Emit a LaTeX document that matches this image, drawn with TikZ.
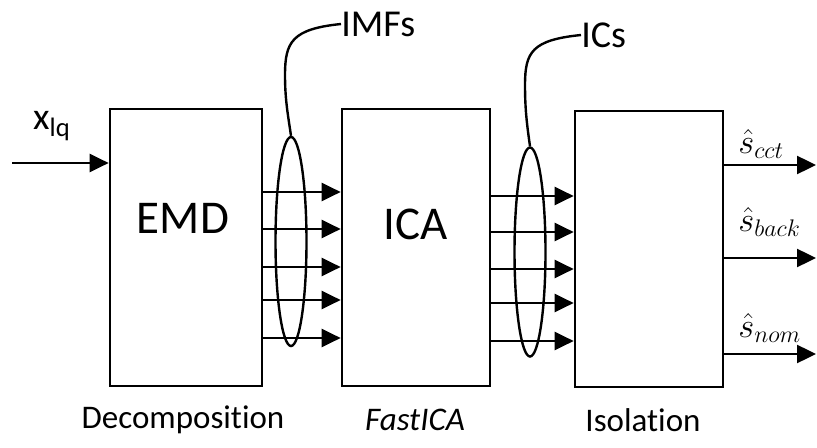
\documentclass[tikz,border=0pt]{standalone}
\usepackage{fontspec}
\setmainfont{Carlito}[Ligatures=NoCommon]
\usetikzlibrary{arrows.meta,shapes.geometric}
\begin{document}
\begin{tikzpicture}[x=0.5pt,y=-0.5pt,
  blk/.style={draw,line width=1.35pt,minimum width=76pt,minimum height=138.5pt,inner sep=0pt},
  arr/.style={line width=1.2pt,-{Triangle[length=9.5pt,width=9pt]}},
  bundle/.style={draw,ellipse,line width=1.2pt,minimum width=15.5pt,minimum height=104.5pt,inner sep=0pt},
  lead/.style={line width=1.2pt},
  lbl/.style={font=\fontsize{16.5}{18}\selectfont},
  big/.style={font=\fontsize{23.5}{26}\selectfont},
  tag/.style={font=\fontsize{19}{21}\selectfont,inner sep=0pt},
  outl/.style={font=\fontsize{16.5}{18}\selectfont,inner sep=0pt}]
\useasboundingbox (0,0) rectangle (817,448);
% boxes
\node[blk] (emd) at (186,247.5) {};
\node[big] (emdt) at (183,218) {EMD};
\node[blk,minimum width=74pt] (ica) at (416,247.5) {};
\node[big] (icat) at (416,224) {ICA};
\node[blk,minimum width=74pt,minimum height=138pt] (iso) at (649,249) {};
% bottom labels
\node[lbl] (dec) at (183,420) {Decomposition};
\node[lbl] (fica) at (415,420) {\itshape FastICA};
\node[lbl] (isol) at (643,420) {Isolation};
% input
\coordinate (in) at (12,163);
\draw[arr] (in) -- (emd.west |- in);
\node[tag] (xlq) at (52,126) {x\textsubscript{lq}};
% IMFs arrows
\foreach \y in {192,229,267,300,338}{
  \draw[arr] (emd.east |- 0,\y) -- (ica.west |- 0,\y);
}
\node[bundle] (e1) at (291,241.5) {};
\node[tag,anchor=west] (imfs) at (341,24) {IMFs};
\draw[lead] (e1.north) .. controls (288,115) and (285,100) .. (285,75)
  .. controls (285,42) and (292,29) .. (imfs.west);
% ICs arrows
\foreach \y in {196,232,269,303,341}{
  \draw[arr] (ica.east |- 0,\y) -- (iso.west |- 0,\y);
}
\node[bundle] (e2) at (530,252) {};
\node[tag,anchor=west] (ics) at (581,35) {ICs};
\draw[lead] (e2.north) .. controls (527,125) and (525,110) .. (525,85)
  .. controls (525,52) and (532,40) .. (ics.west);
% outputs
\coordinate (o1) at (816,165);
\coordinate (o2) at (816,258);
\coordinate (o3) at (816,354);
\draw[arr] (iso.east |- o1) -- (o1);
\draw[arr] (iso.east |- o2) -- (o2);
\draw[arr] (iso.east |- o3) -- (o3);
\node[outl,anchor=west] (s1) at (738,144) {$\hat{s}_{cct}$};
\node[outl,anchor=west] (s2) at (738,222) {$\hat{s}_{back}$};
\node[outl,anchor=west] (s3) at (738,328) {$\hat{s}_{nom}$};
\end{tikzpicture}
\end{document}
